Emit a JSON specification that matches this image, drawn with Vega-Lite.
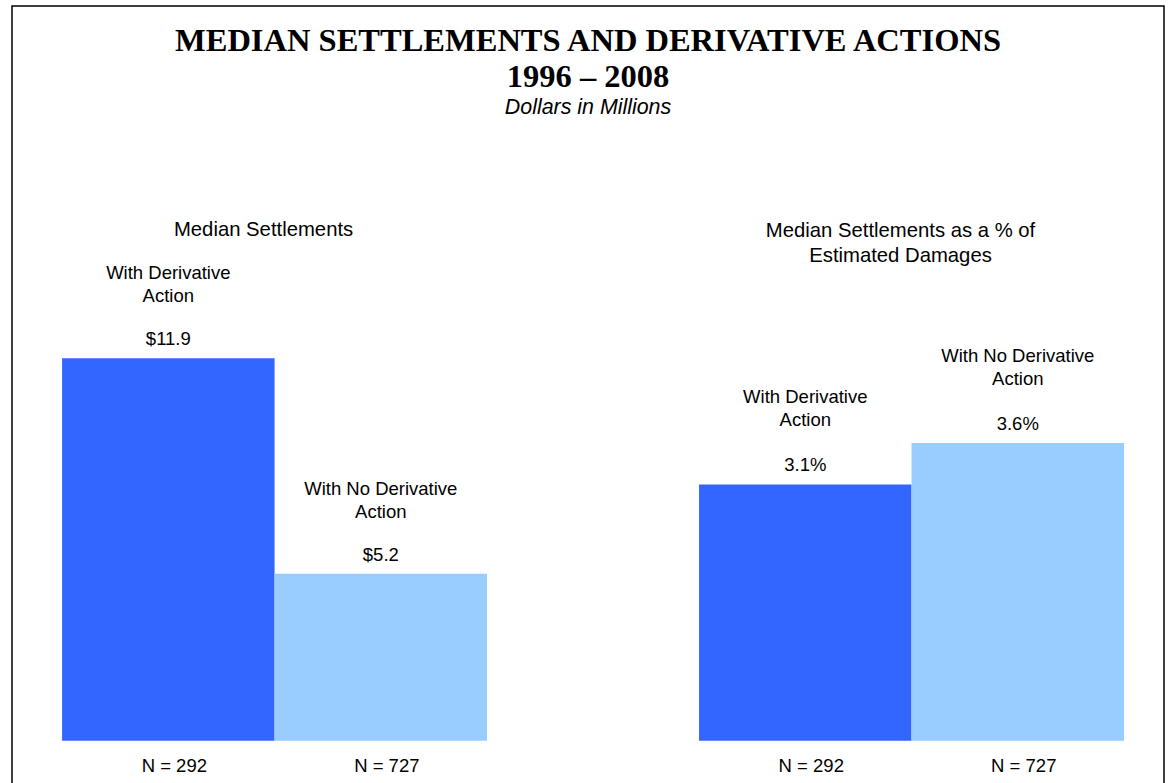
{
  "$schema": "https://vega.github.io/schema/vega-lite/v6.json",
  "autosize": "none",
  "width": 1152,
  "height": 780,
  "padding": {"left": 12, "top": 6, "right": 6, "bottom": 0},
  "background": "white",
  "config": {
    "view": {"stroke": "#000000", "strokeWidth": 1.5},
    "text": {"font": "Liberation Sans", "fontSize": 18.5, "color": "#000000"}
  },
  "title": {
    "text": ["MEDIAN SETTLEMENTS AND DERIVATIVE ACTIONS", "1996 – 2008"],
    "subtitle": "Dollars in Millions",
    "anchor": "middle",
    "frame": "group",
    "offset": -112,
    "font": "Liberation Serif",
    "fontSize": 32.5,
    "fontWeight": "bold",
    "lineHeight": 36,
    "color": "#000000",
    "subtitleFont": "Liberation Sans",
    "subtitleFontSize": 21.4,
    "subtitleFontStyle": "italic",
    "subtitleColor": "#000000",
    "subtitlePadding": 3
  },
  "data": {
    "values": [
      {"panel": "Left", "group": "With Derivative Action", "value": 11.9, "label": "$11.9", "cat": "With Derivative\nAction", "n": "N = 292", "ptitle": "Median Settlements"},
      {"panel": "Left", "group": "With No Derivative Action", "value": 5.2, "label": "$5.2", "cat": "With No Derivative\nAction", "n": "N = 727", "ptitle": "Median Settlements"},
      {"panel": "Right", "group": "With Derivative Action", "value": 3.1, "label": "3.1%", "cat": "With Derivative\nAction", "n": "N = 292", "ptitle": "Median Settlements as a % of\nEstimated Damages"},
      {"panel": "Right", "group": "With No Derivative Action", "value": 3.6, "label": "3.6%", "cat": "With No Derivative\nAction", "n": "N = 727", "ptitle": "Median Settlements as a % of\nEstimated Damages"}
    ]
  },
  "encoding": {
    "x": {
      "field": "panel", "type": "nominal",
      "scale": {"domain": ["Left", "Right"], "paddingInner": 0.3328, "paddingOuter": 0.0707, "align": 0.556},
      "axis": null
    }
  },
  "layer": [
    {
      "transform": [{"filter": "datum.panel === 'Left'"}],
      "encoding": {
        "y": {"field": "value", "type": "quantitative", "scale": {"domain": [-1.405, 22.86], "nice": false, "zero": false}, "axis": null}
      },
      "layer": [
        {
          "mark": {"type": "bar"},
          "encoding": {
            "xOffset": {"field": "group", "type": "nominal", "scale": {"domain": ["With Derivative Action", "With No Derivative Action"], "paddingInner": 0, "paddingOuter": 0}},
            "y2": {"datum": 0},
            "color": {"field": "group", "type": "nominal", "scale": {"domain": ["With Derivative Action", "With No Derivative Action"], "range": ["#3366FF", "#99CCFF"]}, "legend": null}
          }
        },
        {
          "mark": {"type": "text", "baseline": "bottom", "dy": -9},
          "encoding": {
            "xOffset": {"field": "group", "type": "nominal", "scale": {"domain": ["With Derivative Action", "With No Derivative Action"], "paddingInner": 0, "paddingOuter": 0}},
            "text": {"field": "label"}
          }
        },
        {
          "mark": {"type": "text", "baseline": "bottom", "dy": -75, "lineBreak": "\n", "lineHeight": 23},
          "encoding": {
            "xOffset": {"field": "group", "type": "nominal", "scale": {"domain": ["With Derivative Action", "With No Derivative Action"], "paddingInner": 0, "paddingOuter": 0}},
            "text": {"field": "cat"}
          }
        },
        {
          "mark": {"type": "text", "baseline": "middle", "dy": 25, "dx": 6},
          "encoding": {
            "xOffset": {"field": "group", "type": "nominal", "scale": {"domain": ["With Derivative Action", "With No Derivative Action"], "paddingInner": 0, "paddingOuter": 0}},
            "y": {"datum": 0},
            "text": {"field": "n"}
          }
        },
        {
          "transform": [{"filter": "datum.group === 'With Derivative Action'"}],
          "mark": {"type": "text", "baseline": "top", "dx": -11, "fontSize": 20.3, "lineBreak": "\n", "lineHeight": 25},
          "encoding": {"y": {"datum": 16.2}, "text": {"field": "ptitle"}}
        }
      ]
    },
    {
      "transform": [{"filter": "datum.panel === 'Right'"}],
      "encoding": {
        "y": {"field": "value", "type": "quantitative", "scale": {"domain": [-0.546, 8.883], "nice": false, "zero": false}, "axis": null}
      },
      "layer": [
        {
          "mark": {"type": "bar"},
          "encoding": {
            "xOffset": {"field": "group", "type": "nominal", "scale": {"domain": ["With Derivative Action", "With No Derivative Action"], "paddingInner": 0, "paddingOuter": 0}},
            "y2": {"datum": 0},
            "color": {"field": "group", "type": "nominal", "scale": {"domain": ["With Derivative Action", "With No Derivative Action"], "range": ["#3366FF", "#99CCFF"]}, "legend": null}
          }
        },
        {
          "mark": {"type": "text", "baseline": "bottom", "dy": -9},
          "encoding": {
            "xOffset": {"field": "group", "type": "nominal", "scale": {"domain": ["With Derivative Action", "With No Derivative Action"], "paddingInner": 0, "paddingOuter": 0}},
            "text": {"field": "label"}
          }
        },
        {
          "mark": {"type": "text", "baseline": "bottom", "dy": -77, "lineBreak": "\n", "lineHeight": 23},
          "encoding": {
            "xOffset": {"field": "group", "type": "nominal", "scale": {"domain": ["With Derivative Action", "With No Derivative Action"], "paddingInner": 0, "paddingOuter": 0}},
            "text": {"field": "cat"}
          }
        },
        {
          "mark": {"type": "text", "baseline": "middle", "dy": 25, "dx": 6},
          "encoding": {
            "xOffset": {"field": "group", "type": "nominal", "scale": {"domain": ["With Derivative Action", "With No Derivative Action"], "paddingInner": 0, "paddingOuter": 0}},
            "y": {"datum": 0},
            "text": {"field": "n"}
          }
        },
        {
          "transform": [{"filter": "datum.group === 'With Derivative Action'"}],
          "mark": {"type": "text", "baseline": "top", "dx": -11, "fontSize": 20.3, "lineBreak": "\n", "lineHeight": 25},
          "encoding": {"y": {"datum": 6.28}, "text": {"field": "ptitle"}}
        }
      ]
    }
  ],
  "resolve": {"scale": {"y": "independent"}}
}
